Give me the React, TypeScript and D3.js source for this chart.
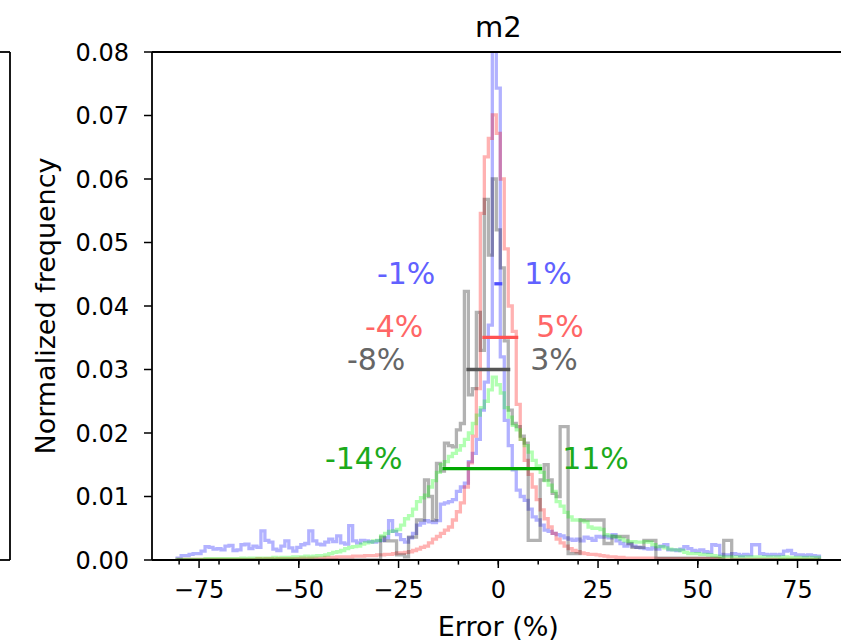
import React from 'react';
import * as d3 from 'd3';

// Histogram bins: 1 %-wide, centred on integer error values from -80 % to 80 %.
const binCenters: number[] = d3.range(-80, 81);

// Normalized frequency per bin, in units of 1e-4 (index 0 -> -80 %, last -> +80 %).
const blueHist = [
  3, 7, 7, 9, 10, 10, 14, 21, 20, 17,
  18, 16, 22, 23, 15, 16, 24, 25, 18, 22,
  20, 46, 31, 28, 17, 15, 22, 30, 19, 14,
  20, 24, 26, 46, 30, 25, 24, 28, 33, 29,
  38, 27, 25, 54, 30, 27, 31, 30, 29, 28,
  30, 31, 35, 62, 45, 40, 32, 28, 35, 42,
  55, 58, 62, 60, 59, 62, 88, 90, 92, 95,
  108, 115, 121, 155, 168, 190, 236, 280, 370, 870,
  743, 320, 220, 180, 142, 110, 100, 94, 80, 68,
  63, 55, 47, 45, 42, 40, 38, 35, 33, 31,
  33, 30, 36, 34, 31, 37, 36, 37, 35, 40,
  30, 26, 22, 25, 22, 20, 19, 18, 17, 19,
  17, 22, 24, 16, 16, 15, 17, 21, 18, 15,
  14, 16, 13, 12, 24, 23, 9, 8, 8, 10,
  9, 7, 9, 8, 24, 24, 10, 9, 8, 9,
  8, 9, 14, 15, 10, 8, 8, 7, 8, 7, 6,
];

const redHist = [
  1, 1, 1, 1, 1, 1, 1, 1, 1, 1,
  1, 1, 1, 1, 1, 1, 1, 1, 1, 1,
  2, 1, 2, 2, 1, 2, 2, 2, 2, 2,
  2, 3, 2, 3, 3, 3, 3, 4, 4, 4,
  5, 5, 5, 5, 6, 6, 6, 7, 7, 7,
  8, 8, 9, 9, 10, 11, 11, 12, 13, 15,
  17, 20, 22, 27, 33, 37, 42, 47, 52, 63,
  76, 90, 115, 153, 195, 270, 546, 635, 664, 701,
  672, 600, 490, 400, 360, 245, 190, 157, 135, 115,
  95, 79, 65, 52, 42, 33, 27, 22, 18, 15,
  13, 11, 10, 9, 9, 8, 7, 6, 5, 5,
  4, 4, 3, 3, 3, 3, 3, 3, 3, 3,
  2, 2, 2, 2, 2, 2, 2, 2, 2, 2,
  2, 2, 2, 2, 2, 2, 1, 1, 1, 1,
  1, 1, 1, 1, 1, 1, 1, 1, 1, 1,
  1, 1, 1, 1, 1, 1, 1, 1, 1, 1, 1,
];

const grayHist = [
  0, 0, 0, 0, 0, 0, 0, 0, 0, 0,
  0, 0, 0, 0, 0, 0, 0, 0, 0, 0,
  0, 0, 0, 0, 0, 0, 0, 0, 0, 0,
  0, 0, 0, 0, 0, 0, 0, 0, 0, 0,
  0, 0, 0, 0, 0, 0, 0, 0, 0, 0,
  0, 36, 30, 30, 30, 8, 8, 5, 36, 36,
  63, 63, 126, 100, 63, 152, 140, 184, 180, 178,
  205, 215, 423, 260, 270, 390, 330, 568, 480, 600,
  520, 460, 345, 236, 215, 210, 195, 184, 31, 31,
  31, 126, 150, 126, 105, 100, 210, 210, 10, 10,
  10, 63, 63, 63, 63, 63, 63, 26, 26, 37,
  37, 37, 37, 26, 20, 20, 20, 31, 31, 31,
  3, 3, 3, 3, 3, 3, 3, 3, 3, 3,
  3, 3, 3, 3, 3, 3, 3, 31, 31, 0,
  0, 0, 0, 0, 0, 0, 0, 0, 0, 0,
  0, 0, 0, 0, 0, 0, 0, 0, 0, 0, 0,
];

const greenHist = [
  1, 1, 1, 1, 1, 1, 1, 2, 2, 2,
  2, 2, 2, 2, 2, 2, 3, 2, 3, 3,
  3, 3, 3, 3, 4, 3, 4, 4, 4, 5,
  5, 5, 6, 5, 6, 7, 7, 8, 10, 12,
  13, 15, 18, 20, 21, 22, 25, 27, 28, 30,
  31, 38, 42, 45, 46, 48, 55, 65, 70, 80,
  92, 98, 102, 115, 125, 138, 150, 155, 163, 168,
  173, 180, 190, 200, 215, 228, 240, 250, 268, 288,
  276, 263, 240, 225, 212, 205, 190, 180, 170, 157,
  148, 138, 125, 118, 108, 92, 85, 75, 68, 63,
  63, 62, 60, 52, 50, 50, 48, 40, 38, 37,
  36, 33, 30, 29, 29, 28, 28, 29, 28, 24,
  21, 21, 19, 17, 16, 16, 15, 12, 10, 10,
  10, 9, 9, 8, 7, 6, 5, 5, 5, 5,
  5, 5, 5, 5, 5, 5, 5, 5, 5, 5,
  5, 4, 5, 4, 4, 4, 4, 4, 4, 4, 4,
];

// Spread of each error distribution (%), shown as a bar at half maximum.
const spreadLow = [-1, -4, -8, -14];
const spreadHigh = [1, 5, 3, 11];

const xMajorTicks = [-75, -50, -25, 0, 25, 50, 75];
const xMinorTicks = [-80, -70, -60, -50, -40, -30, -20, -10, 0, 10, 20, 30, 40, 50, 60, 70, 80];
const yTicks = [0, 0.01, 0.02, 0.03, 0.04, 0.05, 0.06, 0.07, 0.08];

const series = [
  { hist: blueHist, line: '#0000ff', bar: '#4d4dff', text: '#6161ff', gapL: 59, gapR: 22 },
  { hist: redHist, line: '#ff0000', bar: '#ff5252', text: '#ff6666', gapL: 59, gapR: 18 },
  { hist: grayHist, line: '#000000', bar: '#555555', text: '#666666', gapL: 61, gapR: 20 },
  { hist: greenHist, line: '#00ff00', bar: '#00a800', text: '#1caa1c', gapL: 40, gapR: 20 },
];

const FONT = 'DejaVu Sans, sans-serif';
const LEFT = 152;
const RIGHT = 844.6;
const TOP = 52;
const BOTTOM = 560;

export default function App() {
  const x = d3.scaleLinear().domain([-86.8, 86.8]).range([LEFT, RIGHT]);
  const y = d3.scaleLinear().domain([0, 0.08]).range([BOTTOM, TOP]);
  const lineGen = d3.line<[number, number]>();

  const stepPath = (hist: number[]) => {
    const pts: [number, number][] = [];
    const first = binCenters[0] - 0.5;
    pts.push([x(first), y(0)]);
    binCenters.forEach((c, i) => {
      const v = hist[i] * 1e-4;
      pts.push([x(c - 0.5), y(v)]);
      pts.push([x(c + 0.5), y(v)]);
    });
    pts.push([x(binCenters[binCenters.length - 1] + 0.5), y(0)]);
    return lineGen(pts) || '';
  };

  return (
    <svg
      width={841}
      height={643}
      style={{ position: 'absolute', left: 0, top: 0, background: '#fff' }}
      fontFamily={FONT}
    >
      <defs>
        <clipPath id="plotArea">
          <rect x={LEFT} y={TOP} width={RIGHT - LEFT} height={BOTTOM - TOP} />
        </clipPath>
      </defs>

      {/* neighbouring panel edge */}
      <g stroke="#000" strokeWidth={1.8} fill="none">
        <line x1={10} x2={10} y1={TOP} y2={BOTTOM} />
        <line x1={0} x2={10} y1={TOP} y2={TOP} />
        <line x1={0} x2={10} y1={BOTTOM} y2={BOTTOM} />
      </g>

      {/* histograms */}
      <g clipPath="url(#plotArea)" fill="none" strokeWidth={3.3} strokeLinejoin="miter">
        {series.map((s, i) => (
          <path key={i} d={stepPath(s.hist)} stroke={s.line} strokeOpacity={0.3} />
        ))}
      </g>

      {/* spread bars and labels */}
      {series.map((s, i) => {
        const half = (d3.max(s.hist) as number) * 1e-4 / 2;
        const yy = y(half);
        const x0 = x(spreadLow[i]);
        const x1 = x(spreadHigh[i]);
        return (
          <g key={i}>
            <line x1={x0} x2={x1} y1={yy} y2={yy} stroke={s.bar} strokeWidth={3.3} />
            <text x={x0 - s.gapL} y={yy} textAnchor="end" fontSize={30} fill={s.text}>
              {`${spreadLow[i]}%`}
            </text>
            <text x={x1 + s.gapR} y={yy} textAnchor="start" fontSize={30} fill={s.text}>
              {`${spreadHigh[i]}%`}
            </text>
          </g>
        );
      })}

      {/* spines */}
      <g stroke="#000" strokeWidth={1.8} fill="none">
        <line x1={LEFT} x2={LEFT} y1={TOP} y2={BOTTOM} />
        <line x1={LEFT} x2={RIGHT} y1={BOTTOM} y2={BOTTOM} />
        <line x1={LEFT} x2={RIGHT} y1={TOP} y2={TOP} />
        <line x1={RIGHT} x2={RIGHT} y1={TOP} y2={BOTTOM} />
      </g>

      {/* x axis */}
      <g stroke="#000" strokeWidth={1.5}>
        {xMinorTicks.map((t) => (
          <line key={`m${t}`} x1={x(t)} x2={x(t)} y1={BOTTOM} y2={BOTTOM + 4.6} />
        ))}
        {xMajorTicks.map((t) => (
          <line key={`M${t}`} x1={x(t)} x2={x(t)} y1={BOTTOM} y2={BOTTOM + 8} />
        ))}
      </g>
      {xMajorTicks.map((t) => (
        <text key={t} x={x(t)} y={598} textAnchor="middle" fontSize={24} fill="#000">
          {t < 0 ? `\u2212${-t}` : `${t}`}
        </text>
      ))}
      <text x={x(0)} y={636} textAnchor="middle" fontSize={27} fill="#000">
        Error (%)
      </text>

      {/* y axis */}
      <g stroke="#000" strokeWidth={1.5}>
        {yTicks.map((t) => (
          <line key={t} x1={LEFT - 8} x2={LEFT} y1={y(t)} y2={y(t)} />
        ))}
      </g>
      {yTicks.map((t) => (
        <text key={t} x={129} y={y(t) + 8.6} textAnchor="end" fontSize={24} fill="#000">
          {t.toFixed(2)}
        </text>
      ))}
      <text
        transform={`translate(55, ${(TOP + BOTTOM) / 2}) rotate(-90)`}
        textAnchor="middle"
        fontSize={27}
        fill="#000"
      >
        Normalized frequency
      </text>

      {/* title */}
      <text x={x(0)} y={37} textAnchor="middle" fontSize={29} fill="#000">
        m2
      </text>
    </svg>
  );
}
